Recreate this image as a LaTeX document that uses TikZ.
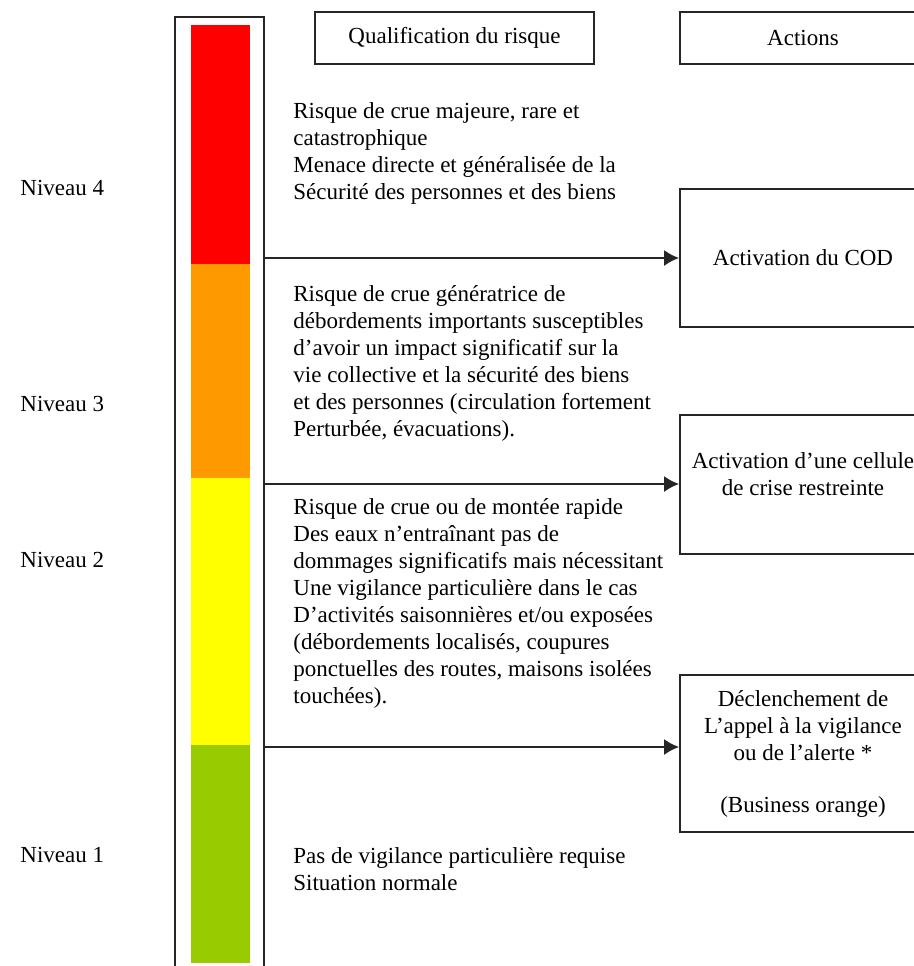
\documentclass[tikz,border=0pt]{standalone}
\usepackage{fontspec}
\setmainfont{Liberation Serif}
\usetikzlibrary{arrows.meta, positioning}
\definecolor{rougeN}{HTML}{FF0000}
\definecolor{orangeN}{HTML}{FF9900}
\definecolor{jauneN}{HTML}{FFFF00}
\definecolor{vertN}{HTML}{99CC00}
\tikzset{
  >={Latex[length=7.5pt,width=8pt]},  % Pointe de flèche pleine
  % Boîtes
  boite/.style={draw=black!85,line width=0.9pt,inner sep=0,align=center,font=\fontsize{11.5}{13.5}\selectfont},
  boite titre/.style={boite,minimum height=26pt},
  boite action/.style={boite,minimum width=123pt},
  % Textes
  texte/.style={inner sep=0,align=left,anchor=north west,font=\fontsize{11.5}{13.5}\selectfont},
  texte centre/.style={texte,align=center,anchor=center},
  niveau/.style={inner sep=0,anchor=west,font=\fontsize{11.5}{13.5}\selectfont},
  % Connexions
  fleche/.style={->,line width=0.9pt,black!85}
}

\begin{document}
\begin{tikzpicture}[x=0.5pt,y=-0.5pt]
    \useasboundingbox (0,0) rectangle (914,966);
    % Échelle des niveaux
    \foreach \yh/\yb/\col in {25/264/rougeN,264/478/orangeN,478/745/jauneN,745/963/vertN}
      \fill[\col] (191,\yh) rectangle (250,\yb);
    \draw[line width=0.9pt,black!85] (175,980) -- (175,17) -- (264,17) -- (264,980);
    \foreach \y/\n in {188/4,404/3,560/2,855/1}
      \node[niveau] (niv\n) at (20,\y) {Niveau \n};
    % En-têtes
    \node[boite titre,minimum width=139.5pt] (qualif) at (454.5,38) {Qualification du risque};
    \node[boite titre,minimum width=123pt] (actions) at (803,38) {Actions};
    % Qualification du risque
    \node[texte] (risque4) at (293,102) {Risque de crue majeure, rare et\\catastrophique\\Menace directe et généralisée de la\\Sécurité des personnes et des biens};
    \node[texte] (risque3) at (293,285) {Risque de crue génératrice de\\débordements importants susceptibles\\d’avoir un impact significatif sur la\\vie collective et la sécurité des biens\\et des personnes (circulation fortement\\Perturbée, évacuations).};
    \node[texte] (risque2) at (293,498) {Risque de crue ou de montée rapide\\Des eaux n’entraînant pas de\\dommages significatifs mais nécessitant\\Une vigilance particulière dans le cas\\D’activités saisonnières et/ou exposées\\(débordements localisés, coupures\\ponctuelles des routes, maisons isolées\\touchées).};
    \node[texte] (risque1) at (293,847) {Pas de vigilance particulière requise\\Situation normale};
    % Actions
    \node[boite action,minimum height=69pt] (cod) at (803,258) {Activation du COD};
    \node[boite action,minimum height=69.5pt] (cellule) at (803,484.5) {};
    \node[texte centre] (txtcellule) at (803,474) {Activation d’une cellule\\de crise restreinte};
    \node[boite action,minimum height=78.5pt] (alerte) at (803,753.5) {Déclenchement de\\L’appel à la vigilance\\ou de l’alerte *\\[12.5pt](Business orange)};
    % Flèches
    \foreach \y/\cible [count=\i] in {258/cod,484/cellule,747/alerte}{
      \coordinate (d\i) at (264,\y);
      \draw[fleche] (d\i) -- (d\i -| \cible.west);
    }
\end{tikzpicture}
\end{document}
